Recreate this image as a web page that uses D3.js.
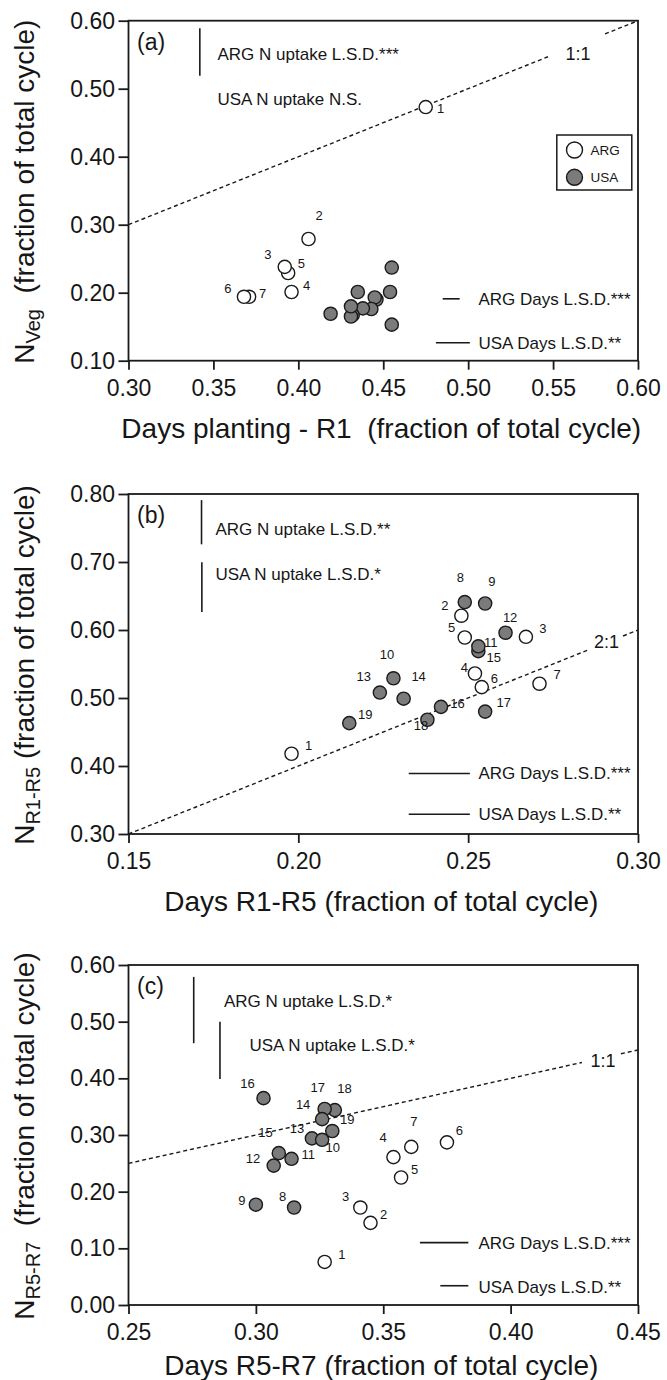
<!DOCTYPE html>
<html>
<head>
<meta charset="utf-8">
<script src="https://cdn.jsdelivr.net/npm/d3@7/dist/d3.min.js"></script>
<style>
body { margin: 0; background: #fff; }
text { font-family: "Liberation Sans", Arial, sans-serif; fill: #161616; }
</style>
</head>
<body>
<div id="chart-area"></div>
<script>
var width = 667;
var height = 1380;

// point numbers: 1-7 Argentina, 8-19 USA
var pointIds = [1, 2, 3, 4, 5, 6, 7, 8, 9, 10, 11, 12, 13, 14, 15, 16, 17, 18, 19];
var country = ["ARG", "ARG", "ARG", "ARG", "ARG", "ARG", "ARG",
    "USA", "USA", "USA", "USA", "USA", "USA", "USA", "USA", "USA", "USA", "USA", "USA"];

// (a) planting - R1
var vegDays = [0.475, 0.406, 0.392, 0.396, 0.394, 0.368, 0.371,
    0.419, 0.431, 0.431, 0.432, 0.435, 0.438, 0.443, 0.445, 0.446, 0.455, 0.454, 0.455];
var vegN = [0.473, 0.279, 0.238, 0.201, 0.229, 0.194, 0.194,
    0.169, 0.180, 0.165, 0.167, 0.201, 0.177, 0.176, 0.193, 0.190, 0.237, 0.201, 0.153];

// (b) R1-R5
var r1r5Days = [0.198, 0.248, 0.267, 0.252, 0.249, 0.254, 0.271,
    0.249, 0.255, 0.228, 0.253, 0.261, 0.224, 0.231, 0.253, 0.242, 0.255, 0.238, 0.215];
var r1r5N = [0.418, 0.621, 0.590, 0.536, 0.589, 0.516, 0.521,
    0.641, 0.639, 0.529, 0.576, 0.596, 0.508, 0.499, 0.569, 0.487, 0.480, 0.468, 0.463];

// (c) R5-R7
var r5r7Days = [0.327, 0.345, 0.341, 0.354, 0.357, 0.375, 0.361,
    0.315, 0.300, 0.326, 0.314, 0.307, 0.322, 0.326, 0.309, 0.303, 0.327, 0.331, 0.330];
var r5r7N = [0.076, 0.145, 0.172, 0.261, 0.225, 0.287, 0.279,
    0.172, 0.177, 0.2915, 0.258, 0.246, 0.294, 0.328, 0.268, 0.365, 0.346, 0.344, 0.307];

// L.S.D. sizes (fraction of total cycle), null = N.S.
var lsdNuptakeARG = [0.070, 0.065, 0.117];
var lsdNuptakeUSA = [null, 0.073, 0.101];
var lsdDaysARG = [0.010, 0.018, 0.019];
var lsdDaysUSA = [0.020, 0.018, 0.011];
var lsdNuptakeText = [["ARG N uptake L.S.D.***", "USA N uptake N.S."],
    ["ARG N uptake L.S.D.**", "USA N uptake L.S.D.*"],
    ["ARG N uptake L.S.D.*", "USA N uptake L.S.D.*"]];
var lsdDaysText = [["ARG Days L.S.D.***", "USA Days L.S.D.**"],
    ["ARG Days L.S.D.***", "USA Days L.S.D.**"],
    ["ARG Days L.S.D.***", "USA Days L.S.D.**"]];

// reference lines
var ratioSlope = [1, 2, 1];
var ratioText = ["1:1", "2:1", "1:1"];

// tick labels
var xTicksA = [0.30, 0.35, 0.40, 0.45, 0.50, 0.55, 0.60];
var yTicksA = [0.10, 0.20, 0.30, 0.40, 0.50, 0.60];
var xTicksB = [0.15, 0.20, 0.25, 0.30];
var yTicksB = [0.30, 0.40, 0.50, 0.60, 0.70, 0.80];
var xTicksC = [0.25, 0.30, 0.35, 0.40, 0.45];
var yTicksC = [0.00, 0.10, 0.20, 0.30, 0.40, 0.50, 0.60];

var plotLeft = 128.5;
var plotRight = 638;
var plotH = 340;

var svg = d3.select("#chart-area").append("svg")
    .attr("width", width)
    .attr("height", height);

var panels = [
    {
        name: "(a)", top: 20.7, xs: vegDays, ys: vegN, xTicks: xTicksA, yTicks: yTicksA,
        labelIds: [1, 2, 3, 4, 5, 6, 7],
        offsets: {1: [15, 1], 2: [10.7, -23.7], 3: [-16.8, -12.7], 4: [15, -6.7], 5: [13.2, -10], 6: [-16, -8.7], 7: [13.6, -3.7]},
        gap: [0.547, 0.5806], ratioPos: [437, 39.5],
        barN: [[0.342, 0.589], null], nText: [[89, 39.5], [89, 84.5]],
        barDays: [[0.495, 0.191], [0.501, 0.1265]], daysText: [[350, 284.5], [350, 328.5]],
        legend: true,
        xTitle: "Days planting - R1\u00a0\u00a0(fraction of total cycle)", xTitleY: 437.5,
        ySub: "Veg", yRest: "\u00a0\u00a0(fraction of total cycle)"
    },
    {
        name: "(b)", top: 494, xs: r1r5Days, ys: r1r5N, xTicks: xTicksB, yTicks: yTicksB,
        labelIds: pointIds,
        offsets: {1: [17, -8.3], 2: [-16.4, -10], 3: [17, -8.3], 4: [-10.7, -6.7], 5: [-13.2, -9.7], 6: [12.5, -8.7], 7: [17.5, -9.3],
            8: [-4.3, -24.7], 9: [6.8, -21.7], 10: [-6.4, -24], 11: [12.5, -4.3], 12: [4.6, -15.7], 13: [-16, -16.7], 14: [15, -22.7],
            15: [15.4, 6], 16: [16.4, -3.3], 17: [18.6, -9], 18: [-6.4, 6], 19: [16, -8.7]},
        gap: [0.2856, 0.2956], ratioPos: [465.5, 154],
        barN: [[0.1715, 0.791], [0.1716, 0.6996]], nText: [[87, 41], [87, 86]],
        barDays: [[0.2505, 0.389], [0.2505, 0.329]], daysText: [[350, 285], [350, 326]],
        legend: false,
        xTitle: "Days R1-R5 (fraction of total cycle)", xTitleY: 911,
        ySub: "R1-R5", yRest: "\u00a0(fraction of total cycle)"
    },
    {
        name: "(c)", top: 965, xs: r5r7Days, ys: r5r7N, xTicks: xTicksC, yTicks: yTicksC,
        labelIds: pointIds,
        offsets: {1: [17.3, -7.7], 2: [13.2, -9], 3: [-14.6, -11.7], 4: [-10.4, -19.3], 5: [13.6, -7.7], 6: [12.5, -11.7], 7: [2.5, -25.3],
            8: [-11.4, -11.7], 9: [-14, -4.3], 10: [10.7, 8], 11: [16.8, -4], 12: [-20.7, -7.3], 13: [-15, -10.3], 14: [-19, -15],
            15: [-13.2, -21.3], 16: [-16, -14.7], 17: [-7, -21.7], 18: [9.6, -21.7], 19: [15, -11.7]},
        gap: [0.428, 0.4433], ratioPos: [462, 102],
        barN: [[0.2756, 0.579], [0.2859, 0.500]], nText: [[95.5, 42], [121, 86]],
        barDays: [[0.3834, 0.110], [0.3834, 0.034]], daysText: [[350, 284], [350, 328]],
        legend: false,
        xTitle: "Days R5-R7 (fraction of total cycle)", xTitleY: 1375,
        ySub: "R5-R7", yRest: "\u00a0\u00a0(fraction of total cycle)"
    }
];

panels.forEach(function(p, pi) {
    var xScale = d3.scaleLinear()
        .domain([p.xTicks[0], p.xTicks[p.xTicks.length - 1]])
        .range([plotLeft, plotRight]);
    var yScale = d3.scaleLinear()
        .domain([p.yTicks[0], p.yTicks[p.yTicks.length - 1]])
        .range([p.top + plotH, p.top]);

    var g = svg.append("g").attr("class", "panel");

    // axes
    var yAxis = d3.axisLeft(yScale)
        .tickValues(p.yTicks)
        .tickFormat(d3.format(".2f"))
        .tickSize(10)
        .tickSizeOuter(0)
        .tickPadding(3.5);
    var yg = g.append("g")
        .attr("transform", "translate(" + plotLeft + ",0)")
        .call(yAxis);

    var xAxis = d3.axisBottom(xScale)
        .tickValues(p.xTicks)
        .tickFormat(d3.format(".2f"))
        .tickSize(9)
        .tickSizeOuter(0)
        .tickPadding(10);
    var xg = g.append("g")
        .attr("transform", "translate(0," + (p.top + plotH) + ")")
        .call(xAxis);

    [yg, xg].forEach(function(ax) {
        ax.select(".domain").remove();
        ax.selectAll(".tick line").attr("stroke", "#1a1a1a").attr("stroke-width", 1.8);
        ax.selectAll(".tick text")
            .style("font-size", "23px")
            .style("font-family", "'Liberation Sans', Arial, sans-serif")
            .attr("fill", "#161616");
    });

    g.append("rect")
        .attr("x", plotLeft)
        .attr("y", p.top)
        .attr("width", plotRight - plotLeft)
        .attr("height", plotH)
        .attr("fill", "none")
        .attr("stroke", "#1a1a1a")
        .attr("stroke-width", 1.8);

    // reference line (with a gap for its label)
    var x0 = xScale.domain()[0], x1 = xScale.domain()[1];
    var segs = [[x0, p.gap[0]], [p.gap[1], x1]];
    g.selectAll("line.ratio")
        .data(segs)
        .enter()
        .append("line")
        .attr("class", "ratio")
        .attr("x1", function(d) { return xScale(d[0]); })
        .attr("y1", function(d) { return yScale(d[0] * ratioSlope[pi]); })
        .attr("x2", function(d) { return xScale(d[1]); })
        .attr("y2", function(d) { return yScale(d[1] * ratioSlope[pi]); })
        .attr("stroke", "#1a1a1a")
        .attr("stroke-width", 1.4)
        .attr("stroke-dasharray", "4,3");

    g.append("text")
        .attr("x", plotLeft + p.ratioPos[0])
        .attr("y", p.top + p.ratioPos[1])
        .style("font-size", "18px")
        .text(ratioText[pi]);

    // panel letter
    g.append("text")
        .attr("x", plotLeft + 8.5)
        .attr("y", p.top + 29)
        .style("font-size", "23px")
        .text(p.name);

    // N uptake LSD bars
    var nLsd = [lsdNuptakeARG[pi], lsdNuptakeUSA[pi]];
    nLsd.forEach(function(v, k) {
        if (v !== null && p.barN[k]) {
            g.append("line")
                .attr("x1", xScale(p.barN[k][0]))
                .attr("x2", xScale(p.barN[k][0]))
                .attr("y1", yScale(p.barN[k][1]))
                .attr("y2", yScale(p.barN[k][1] - v))
                .attr("stroke", "#1a1a1a")
                .attr("stroke-width", 1.6);
        }
        g.append("text")
            .attr("x", plotLeft + p.nText[k][0])
            .attr("y", p.top + p.nText[k][1])
            .style("font-size", "17px")
            .text(lsdNuptakeText[pi][k]);
    });

    // days LSD bars
    var dLsd = [lsdDaysARG[pi], lsdDaysUSA[pi]];
    dLsd.forEach(function(v, k) {
        g.append("line")
            .attr("x1", xScale(p.barDays[k][0] - v))
            .attr("x2", xScale(p.barDays[k][0]))
            .attr("y1", yScale(p.barDays[k][1]))
            .attr("y2", yScale(p.barDays[k][1]))
            .attr("stroke", "#1a1a1a")
            .attr("stroke-width", 1.6);
        g.append("text")
            .attr("x", plotLeft + p.daysText[k][0])
            .attr("y", p.top + p.daysText[k][1])
            .style("font-size", "17px")
            .text(lsdDaysText[pi][k]);
    });

    // points
    var pts = pointIds.map(function(id, i) {
        return {id: id, c: country[i], x: p.xs[i], y: p.ys[i]};
    });
    g.selectAll("circle.pt")
        .data(pts.slice().reverse())
        .enter()
        .append("circle")
        .attr("class", "pt")
        .attr("cx", function(d) { return xScale(d.x); })
        .attr("cy", function(d) { return yScale(d.y); })
        .attr("r", 6.6)
        .attr("fill", function(d) { return d.c === "ARG" ? "#fff" : "#7b7b7b"; })
        .attr("stroke", "#1a1a1a")
        .attr("stroke-width", 1.4);

    g.selectAll("text.pl")
        .data(pts.filter(function(d) { return p.labelIds.indexOf(d.id) >= 0; }))
        .enter()
        .append("text")
        .attr("class", "pl")
        .attr("x", function(d) { return xScale(d.x) + p.offsets[d.id][0]; })
        .attr("y", function(d) { return yScale(d.y) + p.offsets[d.id][1]; })
        .attr("dy", "0.36em")
        .attr("text-anchor", "middle")
        .style("font-size", "13px")
        .text(function(d) { return d.id; });

    // legend
    if (p.legend) {
        var lg = g.append("g").attr("transform", "translate(" + (plotLeft + 428.3) + "," + (p.top + 114.3) + ")");
        lg.append("rect")
            .attr("width", 75)
            .attr("height", 55)
            .attr("fill", "#fff")
            .attr("stroke", "#1a1a1a")
            .attr("stroke-width", 1.5);
        ["ARG", "USA"].forEach(function(c, k) {
            lg.append("circle")
                .attr("cx", 17.7)
                .attr("cy", 15 + k * 27.3)
                .attr("r", 8)
                .attr("fill", c === "ARG" ? "#fff" : "#7b7b7b")
                .attr("stroke", "#1a1a1a")
                .attr("stroke-width", 1.4);
            lg.append("text")
                .attr("x", 33.7)
                .attr("y", 15 + k * 27.3 + 5)
                .style("font-size", "13.5px")
                .text(c);
        });
    }

    // axis titles
    g.append("text")
        .attr("x", (plotLeft + plotRight) / 2 - 2)
        .attr("y", p.xTitleY)
        .attr("text-anchor", "middle")
        .style("font-size", "28px")
        .text(p.xTitle);

    var yt = g.append("text")
        .attr("transform", "translate(34," + (p.top + plotH / 2 + 1) + ") rotate(-90)")
        .attr("text-anchor", "middle")
        .style("font-size", "28px");
    yt.append("tspan").text("N");
    yt.append("tspan").attr("dy", 6).style("font-size", "20px").text(p.ySub);
    yt.append("tspan").attr("dy", -6).text(p.yRest);
});
</script>
</body>
</html>
